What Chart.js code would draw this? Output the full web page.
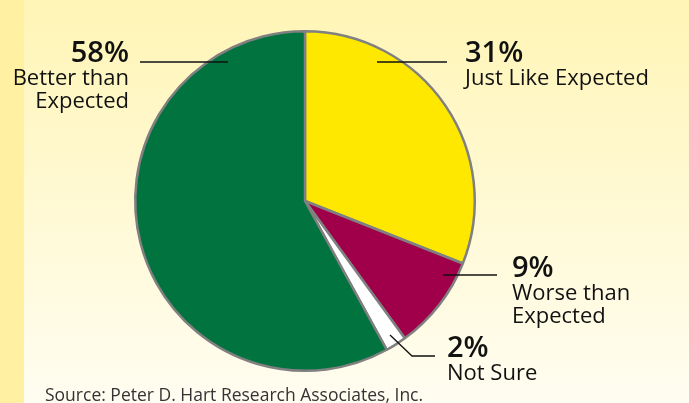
<!DOCTYPE html>
<html>
<head>
<meta charset="utf-8">
<script src="https://cdn.jsdelivr.net/npm/chart.js@4/dist/chart.umd.min.js"></script>
<style>
  html, body { margin: 0; padding: 0; background: #fff8c8; }
  #wrap { width: 689px; height: 403px; position: relative; }
</style>
</head>
<body>
<div id="wrap"><canvas id="pie" width="689" height="403"></canvas></div>
<script>
// valores de la encuesta, en el orden de las agujas del reloj desde arriba
const categorias = ['Just Like Expected', 'Worse than Expected', 'Not Sure', 'Better than Expected'];
const valores = [31, 9, 2, 58];
const colores = ['#ffe800', '#a0004a', '#ffffff', '#00733e'];
const fuente = 'Source: Peter D. Hart Research Associates, Inc.';

// etiquetas: porcentaje + texto, con su linea guia
const etiquetas = [
  { i: 0, x: 465, y: 62, align: 'left', lineas: ['Just Like Expected'], guia: [[377, 62], [447, 62]] },
  { i: 1, x: 512, y: 277, align: 'left', lineas: ['Worse than', 'Expected'], guia: [[443, 275], [497, 275]] },
  { i: 2, x: 447, y: 357, align: 'left', lineas: ['Not Sure'], guia: [[390, 335], [412, 356], [435, 356]] },
  { i: 3, x: 129, y: 62, align: 'right', lineas: ['Better than', 'Expected'], guia: [[140, 62], [228, 62]] }
];

const fondo = {
  id: 'fondo',
  beforeDraw(chart) {
    const c = chart.ctx, w = chart.width, h = chart.height;
    c.save();
    const g = c.createLinearGradient(0, 0, 0, h);
    g.addColorStop(0, '#fff5b6');
    g.addColorStop(1, '#fffdf1');
    c.fillStyle = g;
    c.fillRect(0, 0, w, h);
    c.fillStyle = '#fff0a2';
    c.fillRect(0, 0, 24, h);
    c.restore();
  }
};

const textos = {
  id: 'textos',
  afterDraw(chart) {
    const c = chart.ctx;
    c.save();
    c.strokeStyle = '#111';
    c.lineWidth = 1.3;
    etiquetas.forEach(e => {
      c.beginPath();
      e.guia.forEach((p, k) => k ? c.lineTo(p[0], p[1]) : c.moveTo(p[0], p[1]));
      c.stroke();
      c.fillStyle = '#111';
      c.textAlign = e.align;
      c.textBaseline = 'alphabetic';
      c.font = '600 29px "Open Sans"';
      c.fillText(valores[e.i] + '%', e.x, e.y);
      c.font = '22px "Open Sans"';
      e.lineas.forEach((t, k) => c.fillText(t, e.x, e.y + 23 * (k + 1)));
    });
    c.fillStyle = '#333';
    c.textAlign = 'left';
    c.font = '17.5px "Open Sans"';
    c.fillText(fuente, 45, 401);
    c.restore();
  }
};

new Chart(document.getElementById('pie'), {
  type: 'pie',
  data: {
    labels: categorias,
    datasets: [{
      data: valores,
      backgroundColor: colores,
      borderColor: '#808080',
      borderWidth: 2.5,
      hoverOffset: 0
    }]
  },
  options: {
    responsive: false,
    animation: false,
    events: [],
    layout: { padding: { left: 134, right: 213, top: 30, bottom: 31 } },
    plugins: { legend: { display: false }, tooltip: { enabled: false } }
  },
  plugins: [fondo, textos]
});
</script>
</body>
</html>
